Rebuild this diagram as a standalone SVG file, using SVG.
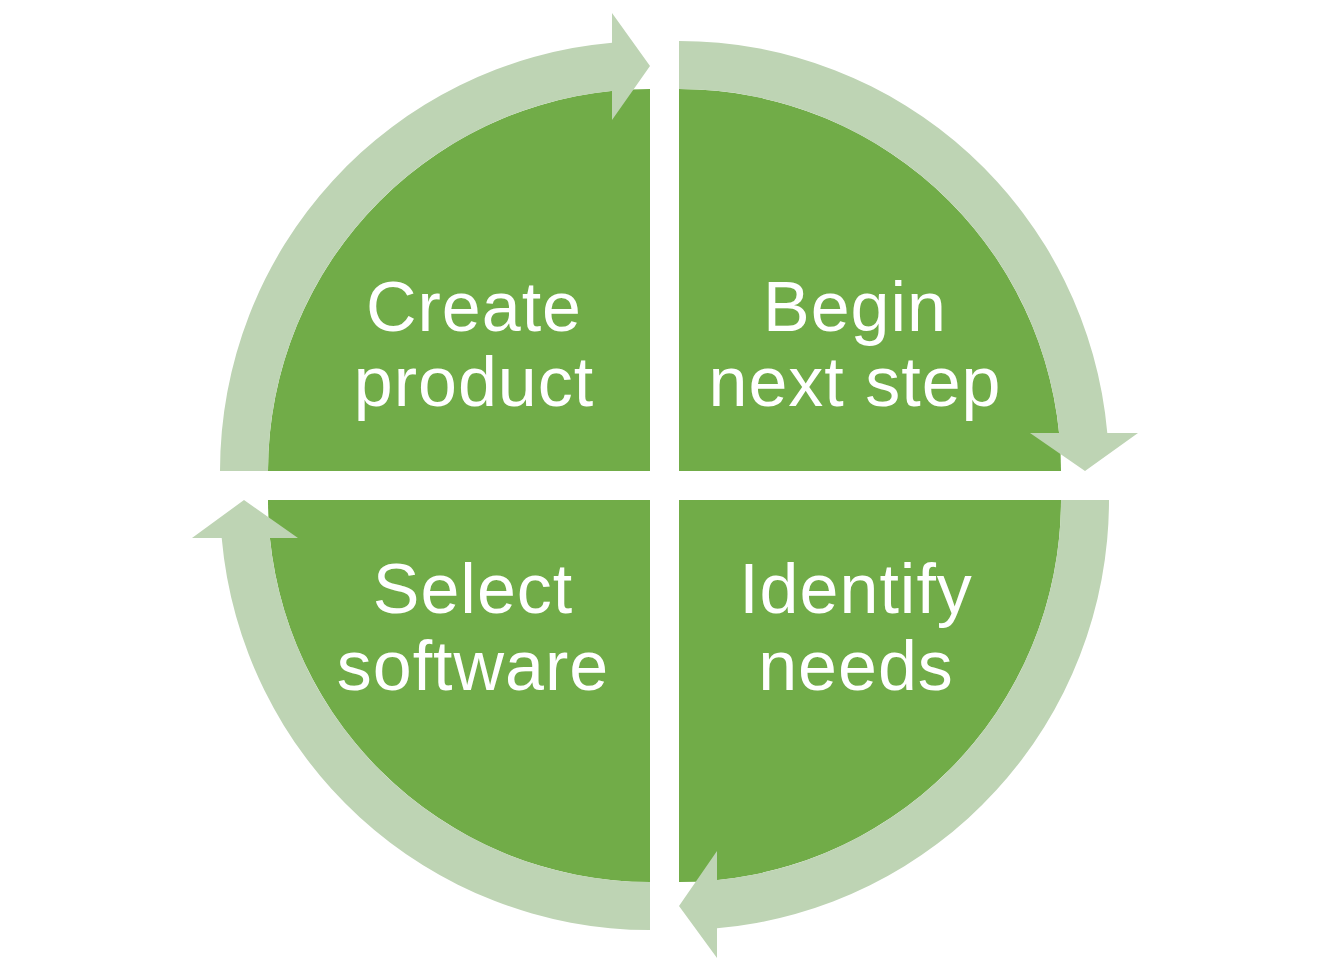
<svg xmlns="http://www.w3.org/2000/svg" width="1334" height="978" viewBox="0 0 1334 978">
<style>
.sector{fill:#71AC48;}
.arrow{fill:#BED4B4;}
.label{fill:#FFFFFF;font-family:"Liberation Sans",Arial,sans-serif;font-size:70px;text-anchor:middle;letter-spacing:1px;}
</style>
<rect width="1334" height="978" fill="#FFFFFF"/>
<g id="create-product">
<path class="sector" d="M650,471 L268,471 A382,382 0 0 1 650,89 Z"/>
<text class="label" x="474" y="331">Create</text>
<text class="label" x="474" y="406">product</text>
</g>
<g id="begin-next-step">
<path class="sector" d="M679,471 L679,89 A382,382 0 0 1 1061,471 Z"/>
<text class="label" x="855" y="331">Begin</text>
<text class="label" x="855" y="406">next step</text>
</g>
<g id="identify-needs">
<path class="sector" d="M679,500 L1061,500 A382,382 0 0 1 679,882 Z"/>
<text class="label" x="856" y="613">Identify</text>
<text class="label" x="856" y="690">needs</text>
</g>
<g id="select-software">
<path class="sector" d="M650,500 L650,882 A382,382 0 0 1 268,500 Z"/>
<text class="label" x="473" y="613">Select</text>
<text class="label" x="473" y="690">software</text>
</g>
<g id="connectors">
<path class="arrow" d="M220,471 A430,430 0 0 1 612,42.7 L612,13 L650,66 L612,120 L612,90.9 A382,382 0 0 0 268,471 Z"/>
<path class="arrow" d="M679,41 A430,430 0 0 1 1107.3,433 L1138,433 L1085,471 L1030,433 L1059.1,433 A382,382 0 0 0 679,89 Z"/>
<path class="arrow" d="M1109,500 A430,430 0 0 1 717,928.3 L717,958 L679,906 L717,851 L717,880.1 A382,382 0 0 0 1061,500 Z"/>
<path class="arrow" d="M650,930 A430,430 0 0 1 221.7,538 L192,538 L244,500 L298,538 L269.9,538 A382,382 0 0 0 650,882 Z"/>
</g>
</svg>
